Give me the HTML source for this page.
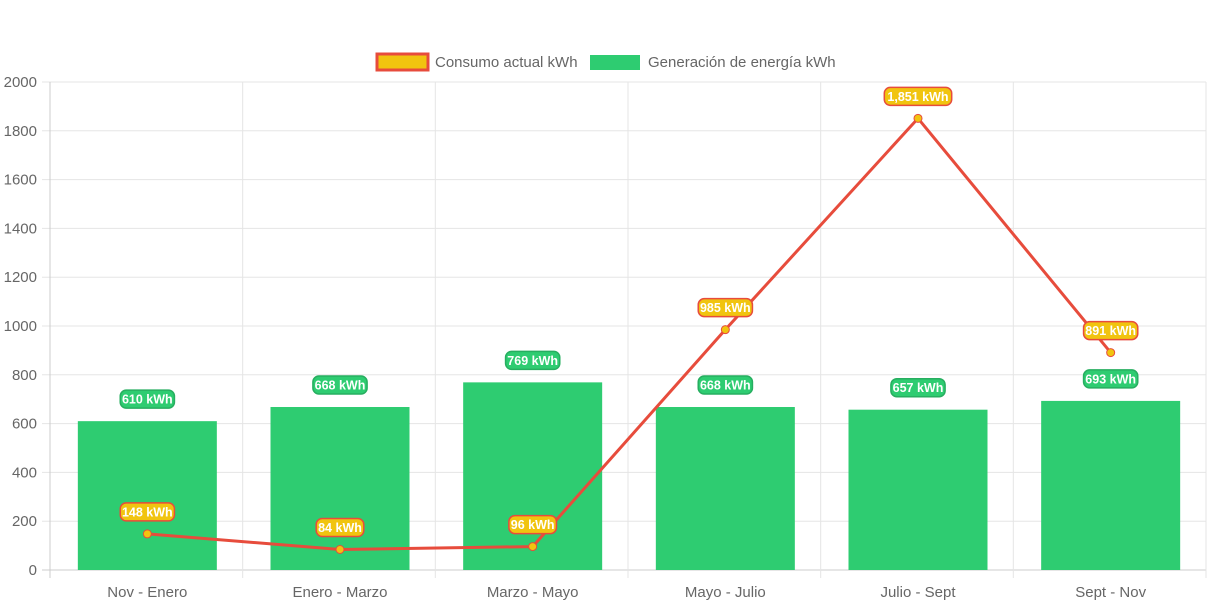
<!DOCTYPE html>
<html><head><meta charset="utf-8"><style>
body{margin:0;background:#fff;}
svg{display:block;font-family:"Liberation Sans",sans-serif;}
</style></head><body>
<svg id="chart" width="1213" height="606" viewBox="0 0 1213 606"></svg>
<script>
const categories=["Nov - Enero","Enero - Marzo","Marzo - Mayo","Mayo - Julio","Julio - Sept","Sept - Nov"];
const consumo=[148,84,96,985,1851,891];
const generacion=[610,668,769,668,657,693];
const yTicks=[0,200,400,600,800,1000,1200,1400,1600,1800,2000];
const svg=document.getElementById('chart');
const NS='http://www.w3.org/2000/svg';
const L=50,R=1206,T=82,B=570,yMax=2000;
const bw=(R-L)/categories.length;
function x(i){return L+1+bw*(i+0.5);}
function y(v){return B-(v/yMax)*(B-T);}
function mk(tag,attrs,parent){const e=document.createElementNS(NS,tag);for(const k in attrs)e.setAttribute(k,attrs[k]);(parent||svg).appendChild(e);return e;}
yTicks.forEach(v=>{
  const g=mk('line',{x1:42,x2:R,y1:y(v),y2:y(v),stroke:v===0?'#ccc':'#e5e5e5','stroke-width':1});
  
  
  const t=mk('text',{x:37,y:y(v)+5,'text-anchor':'end','font-size':15,fill:'#666'});
  t.textContent=v;
  
  
});
for(let i=0;i<=categories.length;i++){
  const gx=L+bw*i;
  const g=mk('line',{x1:gx,x2:gx,y1:T,y2:B+8,stroke:i===0?'#ccc':'#e5e5e5','stroke-width':1});
  
  
}
categories.forEach((c,i)=>{
  const t=mk('text',{x:x(i),y:597,'text-anchor':'middle','font-size':15,fill:'#666'});
  t.textContent=c;
  
  
});
generacion.forEach((v,i)=>{
  const b=mk('rect',{x:x(i)-69.5,y:y(v),width:139,height:B-y(v),fill:'#2ecc71'});
  
  
});
const pts=consumo.map((v,i)=>x(i)+','+y(v)).join(' ');
const pl=mk('polyline',{points:pts,fill:'none',stroke:'#e74c3c','stroke-width':3});


consumo.forEach((v,i)=>{
  const p=mk('circle',{cx:x(i),cy:y(v),r:4,fill:'#f1c40f',stroke:'#e74c3c','stroke-width':1});
  
  
});
function label(cx,cy,txt,fill,stroke,name){
  const g=mk('g',{});
  
  
  const w=txt.length*6.6+8;
  mk('rect',{x:cx-w/2,y:cy-9,width:w,height:18,rx:6,fill:fill,stroke:stroke,'stroke-width':1.5},g);
  const t=mk('text',{x:cx,y:cy+4.5,'text-anchor':'middle','font-size':12.5,'font-weight':'bold',fill:'#fff'},g);
  t.textContent=txt;
}
generacion.forEach((v,i)=>label(x(i),y(v)-22,v.toLocaleString('en-US')+' kWh','#2ecc71','#27ae60','generacion-value-label'));
consumo.forEach((v,i)=>label(x(i),y(v)-22,v.toLocaleString('en-US')+' kWh','#f1c40f','#e74c3c','consumo-value-label'));
const lg1=mk('g',{});


mk('rect',{x:377,y:54,width:51,height:16,fill:'#f1c40f',stroke:'#e74c3c','stroke-width':3},lg1);
const t1=mk('text',{x:435,y:67,'font-size':15,fill:'#666'},lg1);t1.textContent='Consumo actual kWh';
const lg2=mk('g',{});


mk('rect',{x:590,y:55,width:50,height:15,fill:'#2ecc71'},lg2);
const t2=mk('text',{x:648,y:67,'font-size':15,fill:'#666'},lg2);t2.textContent='Generación de energía kWh';
</script>
</body></html>
